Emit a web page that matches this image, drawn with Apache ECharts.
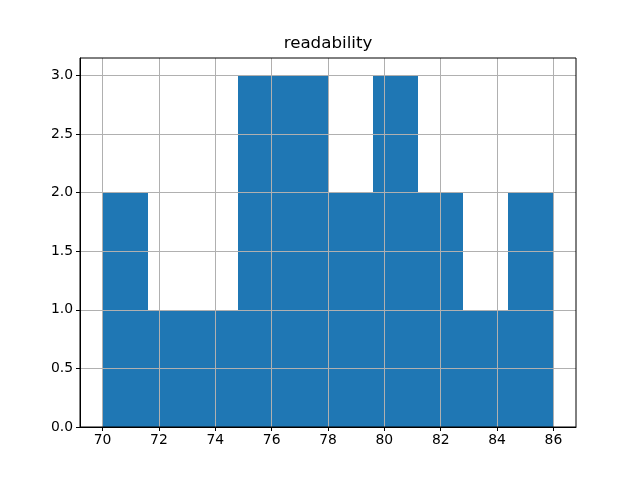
<!DOCTYPE html>
<html><head><meta charset="utf-8">
<script src="https://cdn.jsdelivr.net/npm/echarts@6/dist/echarts.min.js"></script>
<style>html,body{margin:0;padding:0;background:#fff}#c{width:640px;height:480px}</style>
</head><body><div id="c"></div>
<script>
const title = 'readability';
const binEdges = [70, 71.6, 73.2, 74.8, 76.4, 78, 79.6, 81.2, 82.8, 84.4, 86];
const counts = [2, 1, 1, 3, 3, 2, 3, 2, 1, 2];
const xTicks = [70, 72, 74, 76, 78, 80, 82, 84, 86];
const yTicks = [0, 0.5, 1.0, 1.5, 2.0, 2.5, 3.0];

const data = counts.map((c, i) => [binEdges[i], binEdges[i + 1], c]);
const font = 'DejaVu Sans';
const chart = echarts.init(document.getElementById('c'), null, {renderer: 'canvas'});
chart.setOption({
  animation: false,
  title: {text: title, left: 323, top: 30, textAlign: 'center',
    textStyle: {fontFamily: font, fontSize: 16.7, fontWeight: 'normal', color: '#000'}},
  grid: {left: 80, right: 64, top: 58, bottom: 53, show: true, borderColor: '#000', borderWidth: 1, backgroundColor: 'transparent', z: 5},
  xAxis: {
    type: 'value', min: 69.2, max: 86.8, z: 4,
    axisLine: {show: true, onZero: false, lineStyle: {color: '#000', width: 1}},
    axisTick: {show: true, customValues: xTicks, length: 4, lineStyle: {color: '#000'}},
    axisLabel: {customValues: xTicks, color: '#000', fontFamily: font, fontSize: 13.9, margin: 6,
      formatter: v => String(v)},
    splitLine: {show: true, lineStyle: {color: '#b0b0b0', width: 1}}
  },
  yAxis: {
    type: 'value', min: 0, max: 3.15, z: 4,
    axisLine: {show: true, lineStyle: {color: '#000', width: 1}},
    axisTick: {show: true, customValues: yTicks, length: 4, lineStyle: {color: '#000'}},
    axisLabel: {customValues: yTicks, color: '#000', fontFamily: font, fontSize: 13.9, margin: 7,
      formatter: v => v.toFixed(1)},
    splitLine: {show: true, lineStyle: {color: '#b0b0b0', width: 1}}
  },
  series: [{
    type: 'custom', z: 2,
    encode: {x: [0, 1], y: 2},
    renderItem: function (params, api) {
      const p0 = api.coord([api.value(0), api.value(2)]);
      const p1 = api.coord([api.value(1), 0]);
      const x0 = Math.round(p0[0]), x1 = Math.round(p1[0]);
      const y0 = Math.round(p0[1]), y1 = Math.round(p1[1]);
      return {type: 'rect', shape: {x: x0, y: y0, width: x1 - x0, height: y1 - y0},
        style: {fill: '#1f77b4'}};
    },
    data: data
  }]
});
</script></body></html>
